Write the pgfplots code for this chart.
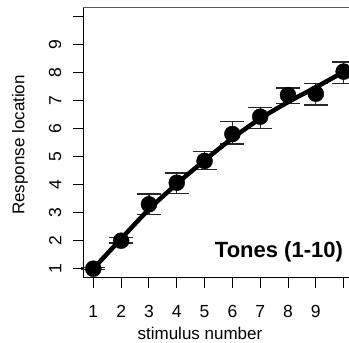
\documentclass[border=0pt]{standalone}
\usepackage{pgfplots}
\pgfplotsset{compat=1.18}
\usepackage{fontspec}
\setmainfont{Liberation Sans}
\begin{document}
\begin{tikzpicture}
\begin{axis}[
  at={(83.3pt,-277.3pt)}, anchor=south west,
  scale only axis, width=268.7pt, height=270pt,
  xmin=0.64, xmax=10.3, ymin=0.693, ymax=10.336,
  axis x line*=bottom, axis y line*=left,
  axis line style={line width=1pt, black},
  xtick={1,2,3,4,5,6,7,8,9,10}, ytick={1,2,3,4,5,6,7,8,9,10},
  xticklabels={1,2,3,4,5,6,7,8,9,{}},
  yticklabels={1,2,3,4,5,6,7,8,9,{}},
  tick align=outside, major tick length=10.5pt,
  tick style={line width=1pt, black},
  /pgf/number format/assume math mode=true,
  ticklabel style={font=\fontsize{17.5}{20}\selectfont},
  xticklabel shift=14pt,
  yticklabel shift=8pt,
  yticklabel style={rotate=90, anchor=south},
  clip=false,
]
\draw[line width=1pt, black!65] (rel axis cs:0,1) -- (rel axis cs:1.1,1);
\addplot[only marks, mark=*, mark size=8pt, black,
  error bars/.cd, y dir=both, y explicit,
  error bar style={line width=1.3pt, black!85},
  error mark options={rotate=90, mark size=12pt, line width=1.5pt, black!85}]
coordinates {
 (1,1.00) += (0,0.04) -= (0,0.03)
 (2,2.00) += (0,0.12) -= (0,0.09)
 (3,3.30) += (0,0.37) -= (0,0.36)
 (4,4.07) += (0,0.34) -= (0,0.38)
 (5,4.85) += (0,0.33) -= (0,0.30)
 (6,5.81) += (0,0.44) -= (0,0.36)
 (7,6.43) += (0,0.33) -= (0,0.42)
 (8,7.20) += (0,0.26) -= (0,0.30)
 (9,7.25) += (0,0.37) -= (0,0.40)
 (10,8.04) += (0,0.35) -= (0,0.42)
};
\addplot[black, line width=4.5pt, smooth, no marks] coordinates {
 (1,1.00) (2,2.07) (3,3.12) (4,4.03) (5,4.87) (6,5.66) (7,6.36) (8,6.95) (9,7.48) (10,8.03)
};
\node[anchor=east, inner sep=0pt, font=\bfseries\fontsize{22}{26}\selectfont] at (axis cs:9.98,1.61) {Tones (1-10)};
\node[font=\fontsize{17}{20}\selectfont] at (axis cs:4.835,-1.296) {stimulus number};
\node[rotate=90, font=\fontsize{17}{20}\selectfont] at (axis cs:-1.635,5.418) {Response location};
\end{axis}
\pgfresetboundingbox
\path[use as bounding box] (0,0) rectangle (349pt,-343pt);
\end{tikzpicture}
\end{document}
